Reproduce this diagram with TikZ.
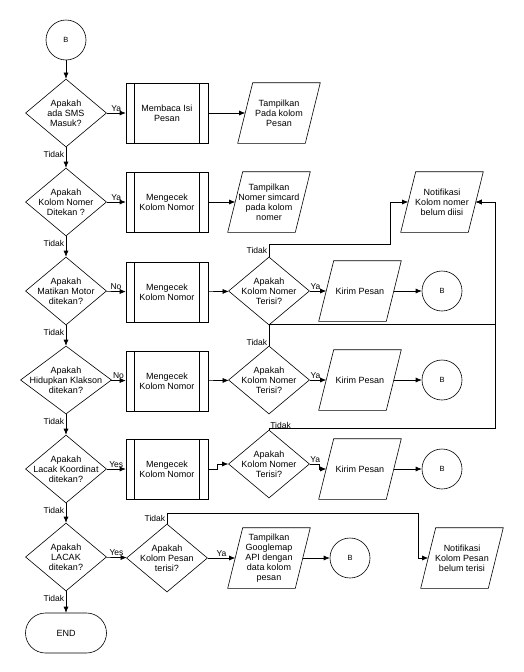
\documentclass[tikz,border=0pt]{standalone}
\usepackage{fontspec}
\setmainfont{Liberation Sans}
\usetikzlibrary{shapes.geometric}
\usetikzlibrary{arrows.meta}

\begin{document}
\begin{tikzpicture}[
		x=1pt, y=-1pt,
		line width=0.6pt,
		every node/.style={font=\fontsize{9}{10}\selectfont, align=center},
		decision/.style={diamond, draw, minimum width=81pt, minimum height=68pt, inner sep=0pt},
		process/.style={rectangle, draw, minimum width=82pt, minimum height=60pt, inner sep=0pt,
			path picture={
				\draw ([xshift=8pt]path picture bounding box.north west) -- ([xshift=8pt]path picture bounding box.south west);
				\draw ([xshift=-9pt]path picture bounding box.north east) -- ([xshift=-9pt]path picture bounding box.south east);
			}},
		io/.style={rectangle, minimum width=67pt, minimum height=60pt, inner sep=0pt,
			append after command={\pgfextra{
				\draw ([xshift=7.5pt]\tikzlastnode.north west) -- ([xshift=7.5pt]\tikzlastnode.north east)
					-- ([xshift=-7.5pt]\tikzlastnode.south east) -- ([xshift=-7.5pt]\tikzlastnode.south west) -- cycle;
			}}},
		connector/.style={circle, draw, minimum size=40pt, inner sep=0pt, font=\fontsize{7.5}{8}\selectfont},
		terminal/.style={rectangle, draw, rounded corners=20pt, minimum width=81pt, minimum height=40pt},
		flow/.style={-{Latex[length=6pt,width=5pt]}},
		lbl/.style={font=\fontsize{8.5}{9}\selectfont, inner sep=1.5pt}
		]
		\useasboundingbox (0,0) rectangle (523,672);

		\node[connector] (start) at (66,40) {B};

		\node[decision, label={[align=center]center:Apakah\\ada SMS\\Masuk?}] (d1) at (66,113) {};
		\node[process] (p1) at (167,113) {Membaca Isi\\Pesan};
		\node[io] (o1) at (279,113) {Tampilkan\\Pada kolom\\Pesan};

		\node[decision, label={[align=center]center:Apakah\\Kolom Nomer\\Ditekan ?}] (d2) at (66,202) {};
		\node[process] (p2) at (167,202) {Mengecek\\Kolom Nomor};
		\node[io] (o2) at (269,202) {Tampilkan\\Nomer simcard\\pada kolom\\nomer};
		\node[io] (n1) at (442,202) {Notifikasi\\Kolom nomer\\belum diisi};

		\node[decision, label={[align=center]center:Apakah\\Matikan Motor\\ditekan?}] (d3) at (66,291) {};
		\node[process] (p3) at (167,292) {Mengecek\\Kolom Nomor};
		\node[decision, label={[align=center]center:Apakah\\Kolom Nomer\\Terisi?}] (c3) at (269,291) {};
		\node[io] (k3) at (360,291) {Kirim Pesan};
		\node[connector] (b3) at (442,291) {B};

		\node[decision, minimum width=91pt, label={[align=center]center:Apakah\\Hidupkan Klakson\\ditekan?}] (d4) at (66,380) {};
		\node[process] (p4) at (167,381) {Mengecek\\Kolom Nomor};
		\node[decision, label={[align=center]center:Apakah\\Kolom Nomer\\Terisi?}] (c4) at (269,380) {};
		\node[io] (k4) at (360,380) {Kirim Pesan};
		\node[connector] (b4) at (442,380) {B};

		\node[decision, label={[align=center]center:Apakah\\Lacak Koordinat\\ditekan?}] (d5) at (66,469) {};
		\node[process] (p5) at (167,469) {Mengecek\\Kolom Nomor};
		\node[decision, label={[align=center]center:Apakah\\Kolom Nomer\\Terisi?}] (c5) at (269,464) {};
		\node[io] (k5) at (360,469) {Kirim Pesan};
		\node[connector] (b5) at (442,469) {B};

		\node[decision, label={[align=center]center:Apakah\\LACAK\\ditekan?}] (d6) at (66,557) {};
		\node[decision, label={[align=center]center:Apakah\\Kolom Pesan\\terisi?}] (c6) at (167,558) {};
		\node[io] (o6) at (269,558) {Tampilkan\\Googlemap\\API dengan\\data kolom\\pesan};
		\node[connector] (b6) at (350,558) {B};
		\node[io] (n2) at (462,558) {Notifikasi\\Kolom Pesan\\belum terisi};

		\node[terminal] (end) at (66,633) {END};

		\draw[flow] (start) -- (d1);
		\draw[flow] (d1) -- node[lbl, left, pos=0.35] {Tidak} (d2);
		\draw[flow] (d2) -- node[lbl, left, pos=0.35] {Tidak} (d3);
		\draw[flow] (d3) -- node[lbl, left, pos=0.35] {Tidak} (d4);
		\draw[flow] (d4) -- node[lbl, left, pos=0.35] {Tidak} (d5);
		\draw[flow] (d5) -- node[lbl, left, pos=0.35] {Tidak} (d6);
		\draw[flow] (d6) -- node[lbl, left, pos=0.35] {Tidak} (end);

		\draw[flow] (d1) -- node[lbl, above] {Ya} (p1);
		\draw[flow] (p1) -- (o1);
		\draw[flow] (d2) -- node[lbl, above] {Ya} (p2);
		\draw[flow] (p2) -- (o2);

		\draw[flow] (d3) -- node[lbl, above] {No} (p3);
		\draw[flow] (p3) -- (c3);
		\draw[flow] (c3) -- node[lbl, above, pos=0.35] {Ya} (k3);
		\draw[flow] (k3) -- (b3);
		\draw[flow] (c3.north) -- node[lbl, left] {Tidak} ++(0,-12) -| ([xshift=-18pt]n1.west) -- (n1.west);

		\draw[flow] (d4) -- node[lbl, above] {No} (p4);
		\draw[flow] (p4) -- (c4);
		\draw[flow] (c4) -- node[lbl, above, pos=0.35] {Ya} (k4);
		\draw[flow] (k4) -- (b4);
		\draw[flow] (c4.north) -- node[lbl, left, pos=0.15] {Tidak} ++(0,-21) -| ([xshift=19pt]n1.east) -- (n1.east);

		\draw[flow] (d5) -- node[lbl, above] {Yes} (p5);
		\draw[flow] (p5.east) -- ++(9,0) |- (c5.west);
		\draw[flow] (c5.east) -- node[lbl, above, pos=0.6] {Ya} ++(9,0) |- (k5.west);
		\draw[flow] (k5) -- (b5);
		\draw[flow] (c5.north) node[lbl, above right, inner sep=1pt] {Tidak} -- ++(0,-1) -| ([xshift=19pt]n1.east) -- (n1.east);

		\draw[flow] (d6) -- node[lbl, above] {Yes} (c6);
		\draw[flow] (c6) -- node[lbl, above] {Ya} (o6);
		\draw[flow] (o6) -- (b6);
		\draw[flow] (c6.north) -- node[lbl, left] {Tidak} ++(0,-10) -| ([xshift=-10pt]n2.west) -- (n2.west);
	\end{tikzpicture}
\end{document}
